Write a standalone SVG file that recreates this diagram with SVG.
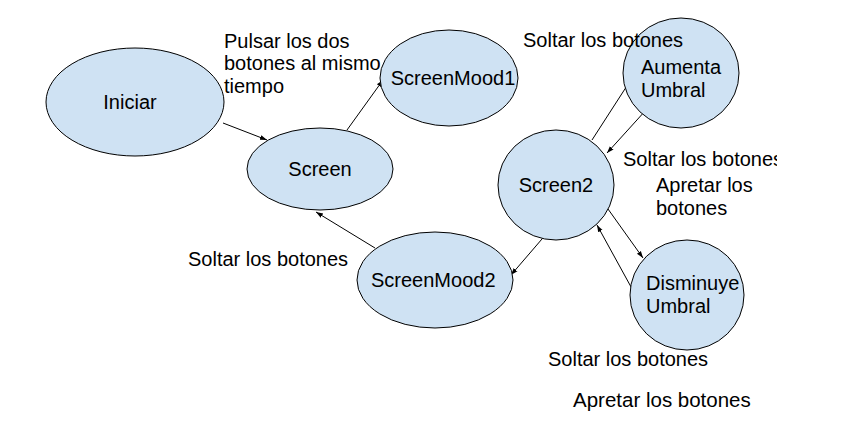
<svg xmlns="http://www.w3.org/2000/svg" width="852" height="431" viewBox="0 0 852 431">
<defs>
<marker id="ah" viewBox="0 0 10 10" refX="10" refY="5" markerWidth="7" markerHeight="7" markerUnits="userSpaceOnUse" orient="auto">
<path d="M0,1.5 L10,5 L0,8.5 z" fill="#000"/>
</marker>
<clipPath id="clipR"><rect x="600" y="140" width="177" height="40"/></clipPath>
<style>
.n{fill:#cfe2f3;stroke:#000;stroke-width:1}
.t{font-family:"Liberation Sans",Arial,sans-serif;font-size:20px;fill:#000}
.c{stroke:#000;stroke-width:1;fill:none;marker-end:url(#ah)}
</style>
</defs>
<rect width="852" height="431" fill="#fff"/>
<g id="connectors">
<line class="c" x1="223" y1="123" x2="267" y2="140"/>
<line class="c" x1="347" y1="130" x2="383" y2="80"/>
<line class="c" x1="375" y1="248" x2="316" y2="212"/>
<line class="c" x1="548" y1="232" x2="511" y2="275"/>
<line class="c" x1="592" y1="140" x2="632" y2="78"/>
<line class="c" x1="646" y1="110" x2="607" y2="153"/>
<line class="c" x1="608" y1="209" x2="643" y2="258"/>
<line class="c" x1="636" y1="296" x2="597" y2="225"/>
</g>
<g id="iniciar"><ellipse class="n" cx="135" cy="102" rx="89" ry="54"/><text class="t" x="130" y="109" text-anchor="middle">Iniciar</text></g>
<g id="screen"><ellipse class="n" cx="320" cy="169" rx="73" ry="41"/><text class="t" x="320" y="176" text-anchor="middle">Screen</text></g>
<g id="screenmood1"><ellipse class="n" cx="449" cy="78" rx="69" ry="48"/><text class="t" x="453" y="85" text-anchor="middle">ScreenMood1</text></g>
<g id="screen2"><ellipse class="n" cx="556" cy="185" rx="58" ry="55"/><text class="t" x="556" y="192" text-anchor="middle">Screen2</text></g>
<g id="aumenta"><ellipse class="n" cx="681" cy="73" rx="58" ry="55"/><text class="t" x="641" y="74">Aumenta</text><text class="t" x="641" y="97">Umbral</text></g>
<g id="disminuye"><ellipse class="n" cx="687" cy="295" rx="57" ry="55"/><text class="t" x="646" y="290">Disminuye</text><text class="t" x="646" y="313">Umbral</text></g>
<g id="screenmood2"><ellipse class="n" cx="435" cy="280" rx="78" ry="48"/><text class="t" x="371" y="287">ScreenMood2</text></g>
<g id="labels">
<text class="t" x="224" y="48">Pulsar los dos</text>
<text class="t" x="224" y="70">botones al mismo</text>
<text class="t" x="224" y="93">tiempo</text>
<text class="t" x="523" y="47">Soltar los botones</text>
<text class="t" x="623" y="166" clip-path="url(#clipR)">Soltar los botones</text>
<text class="t" x="656" y="192">Apretar los</text>
<text class="t" x="656" y="215">botones</text>
<text class="t" x="188" y="266">Soltar los botones</text>
<text class="t" x="548" y="366">Soltar los botones</text>
<text class="t" x="573" y="407" style="font-size:20.5px">Apretar los botones</text>
</g>
</svg>
